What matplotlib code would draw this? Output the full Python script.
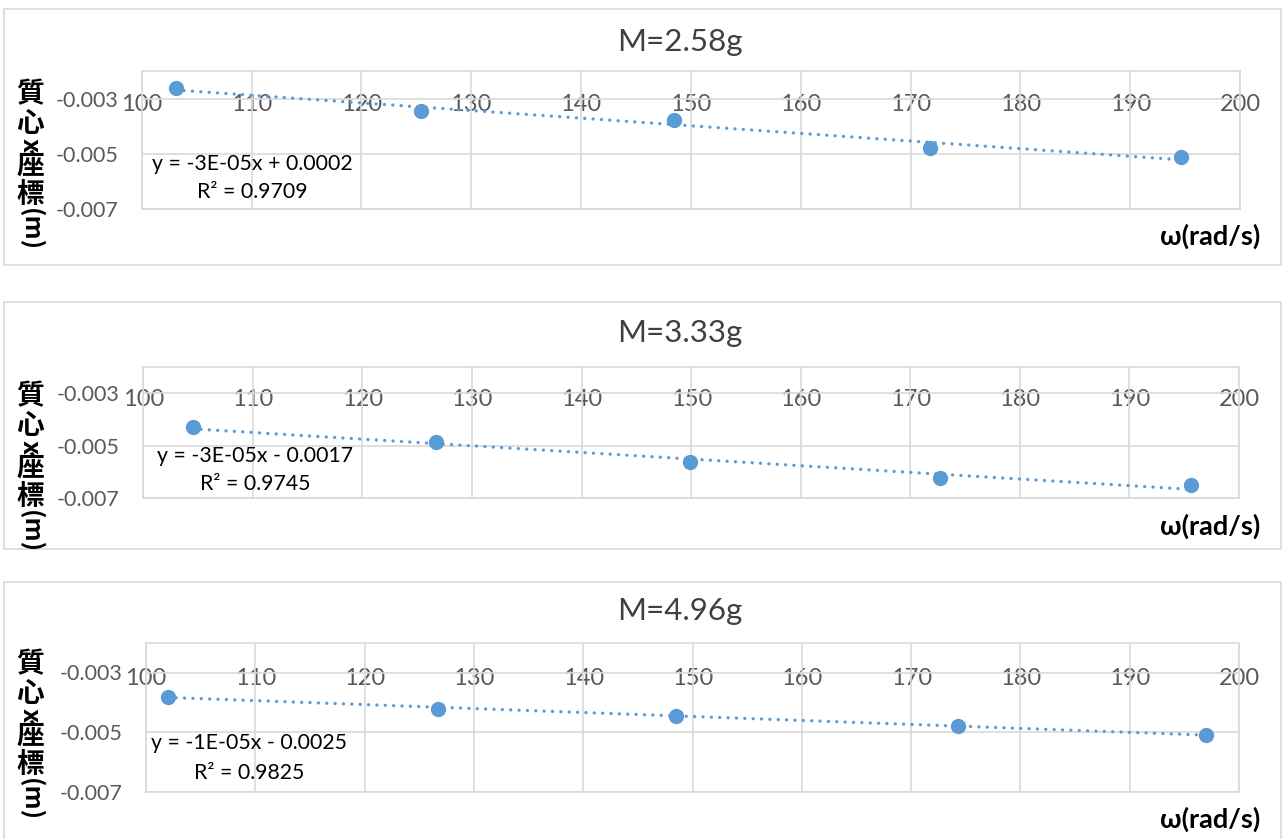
import numpy as np
import matplotlib
matplotlib.use("Agg")
import matplotlib.pyplot as plt
from matplotlib.patches import Rectangle

plt.rcParams['font.family'] = ['Lato', 'Noto Sans CJK TC', 'DejaVu Sans']

# data
titles = ["M=2.58g", "M=3.33g", "M=4.96g"]
omega_258 = [103.1, 125.4, 148.5, 171.8, 194.6]
xcm_258 = [-0.00261, -0.00346, -0.00376, -0.00480, -0.00511]
omega_333 = [104.5, 126.7, 149.9, 172.7, 195.6]
xcm_333 = [-0.00430, -0.00485, -0.00564, -0.00625, -0.00650]
omega_496 = [102.0, 126.7, 148.5, 174.3, 197.0]
xcm_496 = [-0.00381, -0.00421, -0.00445, -0.00479, -0.00510]
eq_texts = ["y = -3E-05x + 0.0002", "y = -3E-05x - 0.0017", "y = -1E-05x - 0.0025"]
r2_texts = ["R² = 0.9709", "R² = 0.9745", "R² = 0.9825"]
xticks = list(range(100, 201, 10))
yticks = [-0.007, -0.005, -0.003]
ylim = (-0.007, -0.002)
ylabel_parts = ["質", "心", "x", "座", "標", "(m)"]
xlabel = "ω(rad/s)"

W, H = 1287, 839
fig = plt.figure(figsize=(W / 100, H / 100), dpi=100)


def fx(x):
    return x / W


def fy(y):
    return 1 - y / H


# layout in pixels
boxes = [(4, 9, 1281, 265), (4, 302, 1281, 549), (4, 582, 1281, 860)]
areas = [(141.7, 71, 1240, 209), (143.3, 367.3, 1239, 498), (146, 642.7, 1239, 791.7)]
title_y = [42, 333, 611]
eq_pos = [(252, 164, 192), (255, 456, 484), (249, 743, 773)]
ylab_top = [94, 396, 664]
xlab_y = [236, 526, 819]
ylab_offsets = [0, 30, 51, 73, 101, 136]

grid_c = "#d9d9d9"
blue = "#5b9bd5"
series = [(omega_258, xcm_258), (omega_333, xcm_333), (omega_496, xcm_496)]

for i, (xs, ys) in enumerate(series):
    l, t, r, b = boxes[i]
    fig.patches.append(Rectangle((fx(l), fy(b)), fx(r - l), (b - t) / H,
                                 transform=fig.transFigure, fill=False,
                                 edgecolor=grid_c, lw=1.2))
    l, t, r, b = areas[i]
    ax = fig.add_axes([fx(l), fy(b), fx(r - l), (b - t) / H])
    ax.set_xlim(100, 200)
    ax.set_ylim(*ylim)
    ax.set_xticks(xticks)
    ax.set_yticks(yticks)
    ax.set_yticklabels([f"{v:.3f}" for v in yticks])
    ax.grid(True, color=grid_c, lw=1.2)
    ax.set_axisbelow(True)
    for s in ax.spines.values():
        s.set_color(grid_c)
        s.set_linewidth(1.2)
    ax.tick_params(axis='x', length=0, labelbottom=False)
    ax.tick_params(axis='y', length=0, pad=17, labelsize=15.5, labelcolor="#595959")

    # x labels sit on the -0.003 line, like Excel draws them
    loc = (yticks[-1] - ylim[0]) / (ylim[1] - ylim[0])
    sec = ax.secondary_xaxis(loc)
    sec.set_xticks(xticks)
    for s in sec.spines.values():
        s.set_visible(False)
    sec.tick_params(length=0, pad=-12, labelsize=17, labelcolor="#595959")

    # trendline
    k, c = np.polyfit(xs, ys, 1)
    xl = np.array([min(xs), max(xs)])
    ax.plot(xl, k * xl + c, color=blue, lw=2.4, linestyle=(0, (0.01, 2.5)),
            dash_capstyle='round', zorder=2)
    ax.plot(xs, ys, 'o', color=blue, ms=10, zorder=3, clip_on=False)

    fig.text(fx(680), fy(title_y[i]), titles[i], ha='center', va='center',
             fontsize=22.5, color="#404040")
    cx, y1, y2 = eq_pos[i]
    fig.text(fx(cx), fy(y1), eq_texts[i], ha='center', va='center', fontsize=15.3, color="black")
    fig.text(fx(cx), fy(y2), r2_texts[i], ha='center', va='center', fontsize=15.3, color="black")

    fig.text(fx(1260), fy(xlab_y[i]), xlabel, ha='right', va='center', fontsize=19.5,
             fontweight='bold', color="black")
    for part, off in zip(ylabel_parts, ylab_offsets):
        cjk = ord(part[0]) > 0x2e80
        fig.text(fx(30), fy(ylab_top[i] + off), part, ha='center', va='center',
                 rotation=0 if cjk else -90, fontsize=20 if cjk else 18,
                 fontweight='bold', color="black",
                 family=['Noto Sans CJK TC', 'DejaVu Sans'])

fig.savefig("out.png", dpi=100, facecolor="white")
